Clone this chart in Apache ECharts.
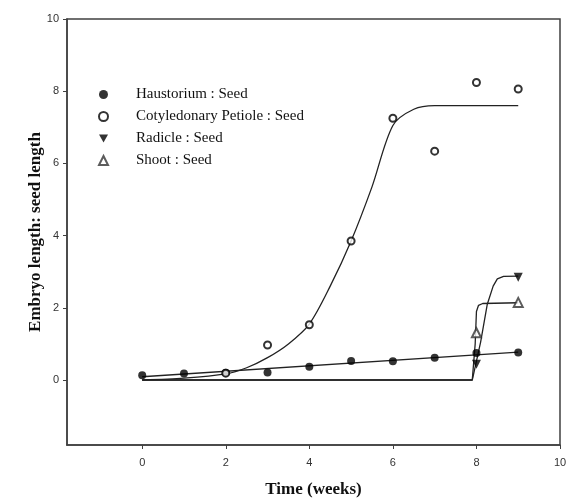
<!DOCTYPE html>
<html>
<head>
<meta charset="utf-8">
<script src="https://cdn.jsdelivr.net/npm/echarts@6/dist/echarts.min.js"></script>
<style>
  html, body { margin: 0; padding: 0; background: #fff; }
  #chart { width: 566px; height: 504px; }
</style>
</head>
<body>
<div id="chart"></div>
<script>
// observed points (weeks, ratio)
var haustX = [0, 1, 2, 3, 4, 5, 6, 7, 8, 9];
var haustY = [0.13, 0.18, 0.2, 0.21, 0.37, 0.53, 0.52, 0.62, 0.75, 0.76];
var cotX = [2, 3, 4, 5, 6, 7, 8, 9];
var cotY = [0.19, 0.97, 1.53, 3.85, 7.25, 6.34, 8.24, 8.06];
var radX = [8, 9];
var radY = [0.44, 2.85];
var shootX = [8, 9];
var shootY = [1.31, 2.15];

// fitted curves
var haustFitX = [0, 9];
var haustFitY = [0.09, 0.77];
var cotFitX = [0, 1, 2, 2.5, 3, 3.5, 4, 4.5, 5, 5.5, 6, 6.5, 7, 9];
var cotFitY = [0, 0.05, 0.17, 0.34, 0.62, 1.0, 1.55, 2.6, 3.85, 5.35, 7.05, 7.5, 7.6, 7.6];
var radFitX = [0, 7.9, 8.1, 8.26, 8.4, 8.5, 8.65, 9];
var radFitY = [0, 0, 1.05, 2.1, 2.6, 2.8, 2.87, 2.88];
var shootFitX = [0, 7.9, 7.97, 8.0, 8.05, 8.15, 9];
var shootFitY = [0, 0, 1.0, 1.9, 2.07, 2.12, 2.14];

var tickVals = [0, 2, 4, 6, 8, 10];

function pairs(xs, ys) {
    return xs.map(function (x, i) { return [x, ys[i]]; });
}

var chart = echarts.init(document.getElementById('chart'));

var axisLine = { show: true, onZero: false, lineStyle: { color: '#404040', width: 1.5 } };
var tickLabel = { fontFamily: 'Liberation Sans', fontSize: 11, color: '#333' };
var nameStyle = { fontFamily: 'Liberation Serif', fontSize: 17, fontWeight: 'bold', color: '#111' };

function fitLine(name, xs, ys, smooth) {
    return {
        name: name,
        type: 'line',
        data: pairs(xs, ys),
        showSymbol: false,
        smooth: smooth ? 0.3 : false,
        lineStyle: { color: '#222', width: 1.3 },
        silent: true,
        z: 2
    };
}

var option = {
    backgroundColor: '#fff',
    animation: false,
    grid: {
        left: 67, right: 6, top: 19, bottom: 59,
        outerBoundsMode: 'none',
        show: true, borderColor: '#404040', borderWidth: 1.5
    },
    legend: {
        orient: 'vertical',
        left: 93,
        top: 81,
        itemWidth: 9,
        itemHeight: 9,
        itemGap: 5,
        data: ['Haustorium : Seed', 'Cotyledonary Petiole : Seed', 'Radicle : Seed', 'Shoot : Seed'],
        textStyle: {
            fontFamily: 'Liberation Serif',
            fontSize: 15,
            lineHeight: 17,
            color: '#111',
            padding: [0, 0, 0, 23]
        }
    },
    xAxis: {
        type: 'value',
        min: -1.8,
        max: 10,
        name: 'Time (weeks)',
        nameLocation: 'middle',
        nameGap: 36,
        nameMoveOverlap: false,
        nameTextStyle: nameStyle,
        axisLine: axisLine,
        axisTick: { show: true, length: 4, customValues: tickVals, lineStyle: { color: '#404040' } },
        axisLabel: Object.assign({ customValues: tickVals, margin: 12 }, tickLabel),
        splitLine: { show: false }
    },
    yAxis: {
        type: 'value',
        min: -1.8,
        max: 10,
        name: 'Embryo length: seed length',
        nameLocation: 'middle',
        nameGap: 23,
        nameMoveOverlap: false,
        nameTextStyle: nameStyle,
        axisLine: axisLine,
        axisTick: { show: true, length: 4, customValues: tickVals, lineStyle: { color: '#404040' } },
        axisLabel: Object.assign({ customValues: tickVals, margin: 8 }, tickLabel),
        splitLine: { show: false }
    },
    series: [
        fitLine('haustFit', haustFitX, haustFitY, false),
        fitLine('cotFit', cotFitX, cotFitY, true),
        fitLine('radFit', radFitX, radFitY, false),
        fitLine('shootFit', shootFitX, shootFitY, false),
        {
            name: 'Haustorium : Seed',
            type: 'scatter',
            data: pairs(haustX, haustY),
            symbol: 'circle',
            symbolSize: 8,
            itemStyle: { color: '#000' },
            z: 4
        },
        {
            name: 'Cotyledonary Petiole : Seed',
            type: 'scatter',
            data: pairs(cotX, cotY),
            symbol: 'emptyCircle',
            symbolSize: 7,
            itemStyle: { color: '#000', borderWidth: 1.3 },
            z: 5
        },
        {
            name: 'Radicle : Seed',
            type: 'scatter',
            data: pairs(radX, radY),
            symbol: 'path://M0,0 L10,0 L5,9 Z',
            symbolSize: 9,
            itemStyle: { color: '#000' },
            z: 4
        },
        {
            name: 'Shoot : Seed',
            type: 'scatter',
            data: pairs(shootX, shootY),
            symbol: 'emptyTriangle',
            symbolSize: 9,
            itemStyle: { color: '#333', borderWidth: 1.2 },
            z: 4
        }
    ]
};

chart.setOption(option);
</script>
</body>
</html>
